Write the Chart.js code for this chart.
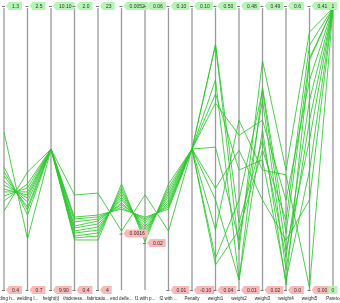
<!DOCTYPE html>
<html>
<head>
<meta charset="utf-8">
<script src="https://cdn.jsdelivr.net/npm/chart.js@4.4.0/dist/chart.umd.min.js"></script>
<style>
html,body{margin:0;padding:0;background:#fff;}
#wrap{width:340px;height:303px;}
</style>
</head>
<body>
<div id="wrap"><canvas id="pc" width="340" height="303"></canvas></div>
<script>
// axes of the parallel coordinates plot
var axisNames = ['welding h...', 'welding l...', 'height(t)', 'thickness...', 'fabricatio...', 'end defle...',
    'f1 with p...', 'f2 with ...', 'Penalty', 'weight1', 'weight2', 'weight3', 'weight4', 'weight5', 'Pareto'];
var axisMin = [0.4, 0.7, 9.90, 0.4, 4, 0.0007, 0.012, 0.01, -0.10, 0.04, 0.01, 0.02, 0.0, 0.00, 0];
var axisMax = [1.3, 2.5, 10.10, 2.0, 23, 0.0052, 0.06, 0.10, 0.10, 0.50, 0.48, 0.49, 0.6, 0.41, 1];
var topLabels = ['1.3', '2.5', '10.10', '2.0', '23', '0.0052', '0.06', '0.10', '0.10', '0.50', '0.48', '0.49', '0.6', '0.41', '1'];
var bottomLabels = ['0.4', '0.7', '9.90', '0.4', '4', '0.0016', '0.02', '0.01', '-0.10', '0.04', '0.01', '0.02', '0.0', '0.00', '0'];
var bottomLabelAt = [0.4, 0.7, 9.90, 0.4, 4, 0.0016, 0.02, 0.01, -0.10, 0.04, 0.01, 0.02, 0.0, 0.00, 0];

// one value per solution on each axis
var weldingH = [0.904, 0.793, 0.777, 0.764, 0.748, 0.735, 0.722, 0.713, 0.700, 0.684, 0.652];
var weldingL = [1.026, 1.179, 1.211, 1.230, 1.262, 1.287, 1.306, 1.326, 1.351, 1.377, 1.453];
var heightT = [10.0, 10.0, 10.0, 10.0, 10.0, 10.0, 10.0, 10.0, 10.0, 10.0, 10.0];
var thickness = [0.939, 0.814, 0.803, 0.786, 0.763, 0.752, 0.735, 0.723, 0.706, 0.695, 0.684];
var fabrication = [10.53, 9.05, 8.92, 8.78, 8.65, 8.45, 8.24, 8.04, 7.84, 7.64, 7.37];
var deflection = [0.00164, 0.00199, 0.00202, 0.00206, 0.00209, 0.00214, 0.00218, 0.00223, 0.00228, 0.00233, 0.00239];
var f1Pen = [0.0282, 0.0244, 0.0241, 0.0238, 0.0234, 0.0229, 0.0224, 0.0219, 0.0214, 0.0209, 0.0202];
var f2Pen = [0.0288, 0.0358, 0.0365, 0.0371, 0.0378, 0.0387, 0.0397, 0.0406, 0.0416, 0.0426, 0.0438];
var penalty = [0, 0, 0, 0, 0, 0, 0, 0, 0, 0, 0];
var weight1 = [0.440, 0.440, 0.383, 0.360, 0.345, 0.273, 0.206, 0.187, 0.138, 0.092, 0.081];
var weight2 = [0.077, 0.122, 0.027, 0.210, 0.268, 0.093, 0.243, 0.027, 0.293, 0.160, 0.110];
var weight3 = [0.402, 0.270, 0.358, 0.237, 0.303, 0.337, 0.170, 0.287, 0.220, 0.353, 0.253];
var weight4 = [0.255, 0.070, 0.121, 0.021, 0.191, 0.043, 0.106, 0.011, 0.245, 0.085, 0.149];
var weight5 = [0.375, 0.276, 0.337, 0.174, 0.305, 0.247, 0.131, 0.334, 0.003, 0.218, 0.356];
var pareto = [1, 1, 1, 1, 1, 1, 1, 1, 1, 1, 1];

var columns = [weldingH, weldingL, heightT, thickness, fabrication, deflection, f1Pen, f2Pen,
    penalty, weight1, weight2, weight3, weight4, weight5, pareto];

function norm(v, i) {
    return (v - axisMin[i]) / (axisMax[i] - axisMin[i]);
}

var datasets = [];
for (let r = 0; r < weldingH.length; r++) {
    let row = [];
    for (let i = 0; i < columns.length; i++) {
        row.push(norm(columns[i][r], i));
    }
    datasets.push({
        data: row,
        borderColor: 'rgba(45,200,45,0.85)',
        borderWidth: 1,
        pointRadius: 0,
        tension: 0,
        fill: false
    });
}

var FONT = '"Liberation Sans", Arial, sans-serif';

function drawTag(ctx, x, y, text, fill, centered) {
    ctx.font = '5px ' + FONT;
    let w = ctx.measureText(text).width + 6;
    let h = 8;
    ctx.fillStyle = fill;
    ctx.beginPath();
    if (centered) {
        ctx.rect(x - w / 2, y - h / 2, w, h);
    } else {
        ctx.moveTo(x + 2, y);
        ctx.lineTo(x + 5, y - h / 2);
        ctx.lineTo(x + 5 + w, y - h / 2);
        ctx.lineTo(x + 5 + w, y + h / 2);
        ctx.lineTo(x + 5, y + h / 2);
        ctx.closePath();
    }
    ctx.fill();
    if (!centered) {
        ctx.strokeStyle = '#777';
        ctx.lineWidth = 1;
        ctx.beginPath();
        ctx.moveTo(x - 2, y + 0.5);
        ctx.lineTo(x + 1, y + 0.5);
        ctx.stroke();
    }
    ctx.fillStyle = '#333';
    ctx.textAlign = 'center';
    ctx.textBaseline = 'middle';
    ctx.fillText(text, centered ? x : x + 5 + w / 2, y + 0.5);
}

var pcAxes = {
    id: 'pcAxes',
    beforeDatasetsDraw: function (chart) {
        let ctx = chart.ctx, xs = chart.scales.x, ys = chart.scales.y;
        ctx.save();
        ctx.strokeStyle = '#9a9a9a';
        ctx.lineWidth = 1.3;
        for (let i = 0; i < axisNames.length; i++) {
            let x = xs.getPixelForValue(i);
            ctx.beginPath();
            ctx.moveTo(x, ys.getPixelForValue(1));
            ctx.lineTo(x, ys.getPixelForValue(0));
            ctx.stroke();
        }
        ctx.restore();
    },
    afterDatasetsDraw: function (chart) {
        let ctx = chart.ctx, xs = chart.scales.x, ys = chart.scales.y;
        ctx.save();
        let last = axisNames.length - 1;
        for (let i = 0; i < axisNames.length; i++) {
            let x = xs.getPixelForValue(i);
            let yTop = ys.getPixelForValue(1) - 2;
            let yBot = ys.getPixelForValue(norm(bottomLabelAt[i], i));
            if (i == last) {
                drawTag(ctx, x, yTop, topLabels[i], '#b4f5b4', true);
                drawTag(ctx, x, yBot, bottomLabels[i], '#b4f5b4', true);
            } else {
                drawTag(ctx, x, yTop, topLabels[i], '#b4f5b4', false);
                drawTag(ctx, x, yBot, bottomLabels[i], '#f9b9b9', false);
            }
            ctx.font = '4.5px ' + FONT;
            ctx.fillStyle = '#222';
            ctx.textAlign = 'center';
            ctx.textBaseline = 'middle';
            ctx.fillText(axisNames[i], x, 299);
        }
        ctx.restore();
    }
};

var pc = new Chart(document.getElementById('pc').getContext('2d'), {
    type: 'line',
    data: {
        labels: axisNames,
        datasets: datasets
    },
    options: {
        responsive: false,
        animation: false,
        devicePixelRatio: 1,
        layout: {padding: {left: 4, right: 7, top: 8, bottom: 13}},
        scales: {
            x: {type: 'category', display: false, offset: false},
            y: {display: false, min: 0, max: 1}
        },
        plugins: {
            legend: {display: false},
            tooltip: {enabled: false}
        }
    },
    plugins: [pcAxes]
});
</script>
</body>
</html>
